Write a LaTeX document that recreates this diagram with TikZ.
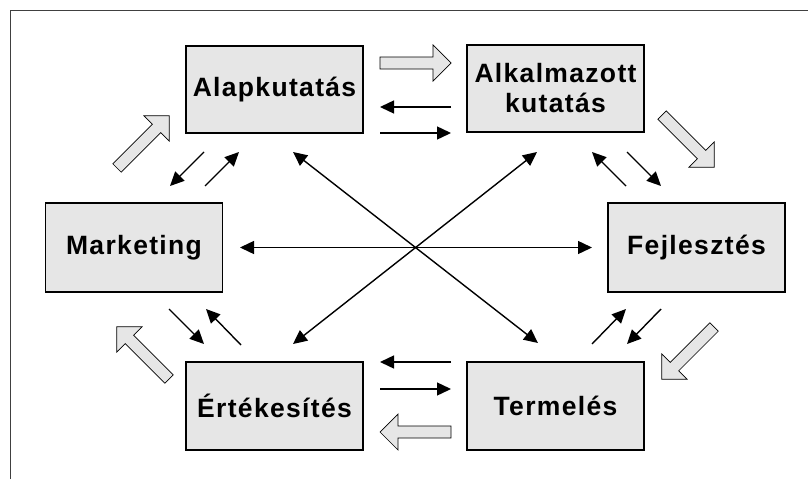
\documentclass[tikz,border=0pt]{standalone}
\usepackage{fontspec}
\setmainfont{Liberation Sans}
\newfontfamily\boxfont[LetterSpace=5]{Liberation Sans}
\usetikzlibrary{arrows.meta}
\definecolor{boxgray}{RGB}{230,230,230}
\newcommand\fatarr[3]{%
  \draw[fat, shift={#1}, rotate=#2] (0,6) -- ({#3-18},6) -- ({#3-18},18) -- (#3,0) -- ({#3-18},-18) -- ({#3-18},-6) -- (0,-6) -- cycle;}
\begin{document}
\begin{tikzpicture}[x=1pt,y=-1pt,
  box/.style={draw=black, line width=1.5pt, fill=boxgray, minimum width=177pt, minimum height=87pt, inner sep=0pt, font=\boxfont\bfseries\fontsize{26.5}{30}\selectfont, align=center},
  thin/.style={line width=1.4pt, -{Triangle[length=14pt,width=13pt]}},
  both/.style={line width=1.4pt, {Triangle[length=14pt,width=13pt]}-{Triangle[length=14pt,width=13pt]}},
  fat/.style={draw=black, line width=0.7pt, fill=boxgray, line join=miter}]
\useasboundingbox (0,0) rectangle (808,479);
\draw[line width=1pt, black!75] (10.5,479) -- (10.5,10) -- (808,10);

\node[box] (alap) at (274.5,89.5) {Alapkutatás};
\node[box] (alk) at (555.5,88.5) {Alkalmazott\\kutatás};
\node[box, minimum height=89pt] (mark) at (134,247.5) {Marketing};
\node[box, minimum height=89pt] (fejl) at (696.5,247.5) {Fejlesztés};
\node[box, minimum height=88pt] (ert) at (274.5,406) {Értékesítés};
\node[box, minimum height=88pt] (term) at (555.5,406) {Termelés};

% fat process arrows
\fatarr{(380,63)}{0}{71}
\fatarr{(662,115)}{-45}{74}
\fatarr{(714,327)}{-135}{74}
\fatarr{(451,432)}{180}{71}
\fatarr{(169,379)}{135}{74}
\fatarr{(117,168)}{45}{74}

% thin arrow end points
\coordinate (a1) at (451,107); \coordinate (a2) at (380,107);
\coordinate (b1) at (380,133); \coordinate (b2) at (451,133);
\coordinate (c1) at (451,362); \coordinate (c2) at (380,362);
\coordinate (d1) at (380,389); \coordinate (d2) at (451,389);
\coordinate (e1) at (204,152); \coordinate (e2) at (170,186);
\coordinate (f1) at (205,186); \coordinate (f2) at (239,152);
\coordinate (g1) at (626,186); \coordinate (g2) at (592,152);
\coordinate (h1) at (627,152); \coordinate (h2) at (661,186);
\coordinate (i1) at (169,309); \coordinate (i2) at (204,344);
\coordinate (j1) at (241,345); \coordinate (j2) at (206,309);
\coordinate (k1) at (592,344); \coordinate (k2) at (626,309);
\coordinate (l1) at (661,309); \coordinate (l2) at (627,344);
\coordinate (m1) at (240,247.5); \coordinate (m2) at (592,247.5);
\coordinate (n1) at (293,152); \coordinate (n2) at (538,343);
\coordinate (o1) at (537,152); \coordinate (o2) at (293,344);

\foreach \p in {a,b,c,d,e,f,g,h,i,j,k,l}
  \draw[thin] (\p1) -- (\p2);
\foreach \p in {m,n,o}
  \draw[both] (\p1) -- (\p2);
\end{tikzpicture}
\end{document}
